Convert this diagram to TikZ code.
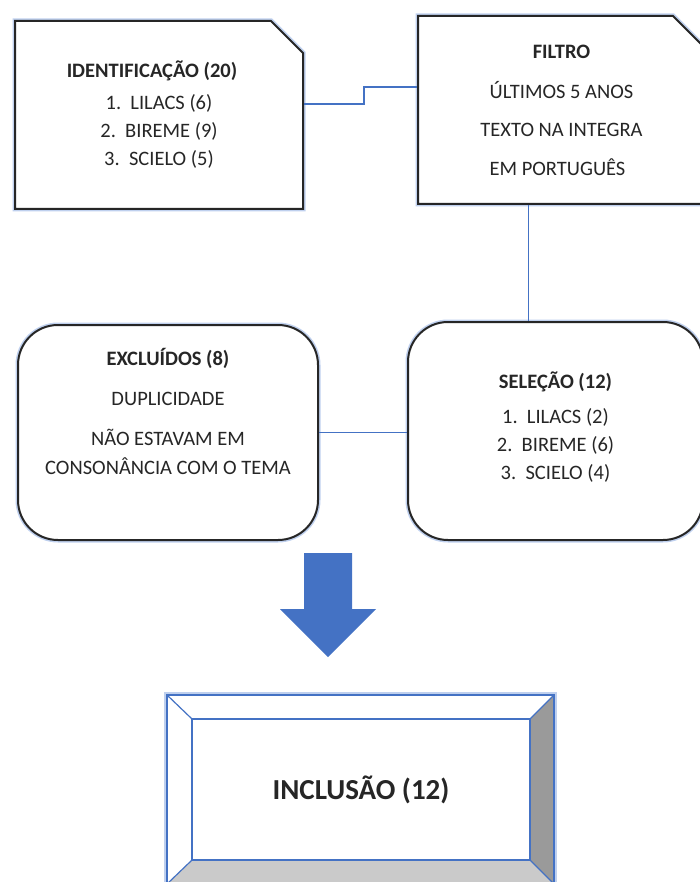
\documentclass[tikz,border=0pt]{standalone}
\usepackage{fontspec}
\setmainfont{Carlito}
\usetikzlibrary{shapes.misc}

\definecolor{linkblue}{HTML}{4472C4}
\definecolor{glowblue}{HTML}{BFD0EE}
\definecolor{darkface}{HTML}{9A9A9A}
\definecolor{lightface}{HTML}{CACACA}
\definecolor{inkgray}{HTML}{262626}

\begin{document}
\begin{tikzpicture}[x=1pt,y=-1pt, every node/.style={font=\fontsize{20.5}{24}\selectfont, text=inkgray}]
    \tikzstyle{snipbox}=[chamfered rectangle, chamfered rectangle corners=north east,
        chamfered rectangle xsep=16pt, chamfered rectangle ysep=16pt,
        draw=inkgray, line width=2pt, preaction={draw=glowblue, line width=5pt},
        fill=white, inner sep=0pt, align=center]
    \tikzstyle{roundbox}=[rectangle, rounded corners=40pt, draw=inkgray, line width=2pt,
        preaction={draw=glowblue, line width=5pt}, fill=white, inner sep=0pt, align=center]
    \tikzstyle{link}=[draw=linkblue, line width=1.4pt]
    \tikzstyle{bevel}=[draw=linkblue, line width=1.2pt]

    \useasboundingbox (0,0) rectangle (700,882);
    \clip (0,0) rectangle (700,882);

    % top row
    \node[snipbox, minimum width=288pt, minimum height=188pt] (ident) at (159,115)
        {\textbf{IDENTIFICAÇÃO (20)}\hspace*{14pt}\\[8pt]
         1.\ \ LILACS (6)\\[4pt] 2.\ \ BIREME (9)\\[4pt] 3.\ \ SCIELO (5)};
    \node[snipbox, minimum width=287pt, minimum height=188pt] (filtro) at (561.5,110)
        {\textbf{FILTRO}\\[16pt] ÚLTIMOS 5 ANOS\\[14pt] TEXTO NA INTEGRA\\[15pt] EM PORTUGUÊS\hspace*{8pt}};

    % middle row
    \node[roundbox, minimum width=300pt, minimum height=215pt] (excl) at (168,432.5)
        {\textbf{EXCLUÍDOS (8)}\\[16pt] DUPLICIDADE\\[16pt] NÃO ESTAVAM EM\\[5pt]
         CONSONÂNCIA COM O TEMA\\[18pt]~};
    \node[roundbox, minimum width=295pt, minimum height=218pt] (selecao) at (555.5,431)
        {\textbf{SELEÇÃO (12)}\\[11pt] 1.\ \ LILACS (2)\\[4pt] 2.\ \ BIREME (6)\\[4pt]
         3.\ \ SCIELO (4)\\[-14pt]~};

    \draw[link] ([yshift=11pt]ident.east) -- ++(60,0) |- ([yshift=23pt]filtro.west);
    \draw[link] ([xshift=-33pt]filtro.south) -- ([xshift=-33pt]filtro.south |- selecao.north);
    \draw[link] (excl.east) -- (excl.east -| selecao.west);

    % block arrow
    \fill[linkblue] (304,553) -- (352,553) -- (352,609) -- (376,609) -- (328,657)
        -- (280,609) -- (304,609) -- cycle;

    % bevel box
    \draw[bevel, fill=white, preaction={draw=glowblue, line width=6pt}] (167,695) rectangle (554,884);
    \node[bevel, rectangle, minimum width=338pt, minimum height=141pt, inner sep=0pt]
        (inclusao) at (361,789.5) {\fontsize{29}{34}\selectfont\textbf{INCLUSÃO (12)}};
    \fill[darkface] (inclusao.north east) -- (554,695) -- (554,884) -- (inclusao.south east) -- cycle;
    \fill[lightface] (inclusao.south west) -- (inclusao.south east) -- (554,884) -- (167,884) -- cycle;
    \draw[bevel] (167,695) -- (inclusao.north west);
    \draw[bevel] (554,695) -- (inclusao.north east);
    \draw[bevel] (167,884) -- (inclusao.south west);
    \draw[bevel] (554,884) -- (inclusao.south east);
    \draw[bevel] (inclusao.north west) rectangle (inclusao.south east);
    \draw[bevel] (167,695) rectangle (554,884);
\end{tikzpicture}
\end{document}
